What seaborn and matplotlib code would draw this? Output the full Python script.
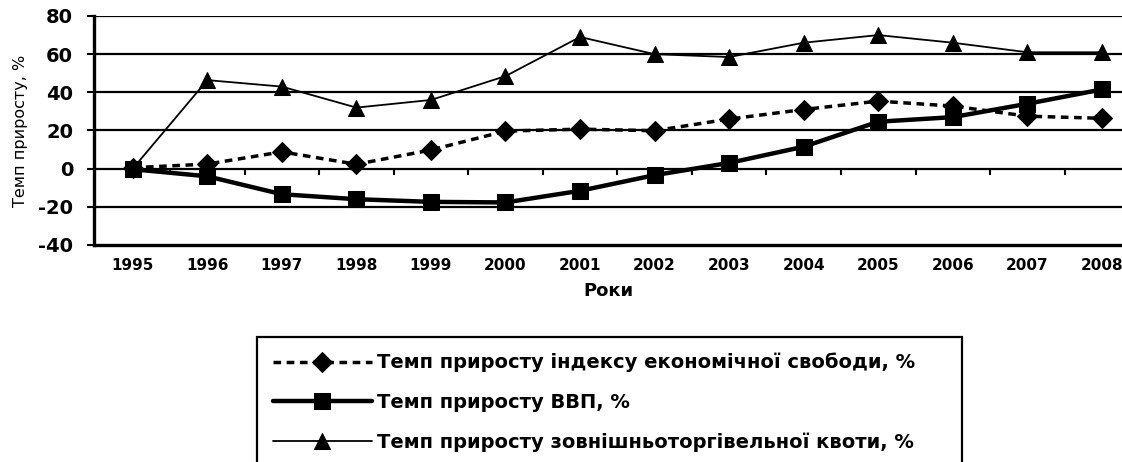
import numpy as np
import pandas as pd
import matplotlib
matplotlib.use("Agg")
import matplotlib.pyplot as plt
import seaborn as sns

sns.set_theme(style="white")
plt.rcParams["font.family"] = ["DejaVu Sans"]
plt.rcParams.update({"text.color": "black", "axes.labelcolor": "black",
                     "xtick.color": "black", "ytick.color": "black"})

years = list(range(1995, 2009))
svoboda = [0.5, 2.4, 8.8, 2.3, 9.8, 19.7, 20.7, 19.9, 26.0, 31.0, 35.4, 32.8, 27.5, 26.4]
vvp = [-0.3, -4.0, -13.4, -16.0, -17.4, -17.7, -11.6, -3.4, 3.0, 11.5, 24.6, 27.0, 34.0, 41.5]
kvota = [0.0, 46.4, 43.0, 32.0, 36.0, 48.5, 69.0, 60.0, 58.5, 66.0, 70.0, 66.0, 61.0, 61.0]

labels = [
    "Темп приросту індексу економічної свободи, %",
    "Темп приросту ВВП, %",
    "Темп приросту зовнішньоторгівельної квоти, %",
]

df = pd.DataFrame({"Рік": years, labels[0]: svoboda, labels[1]: vvp, labels[2]: kvota})

fig = plt.figure(figsize=(11.22, 4.62), dpi=100)
ax = fig.add_axes([94 / 1122, 1 - 245 / 462, 1 - 94 / 1122, 229 / 462])

# сітка під лініями
for v in range(-20, 81, 20):
    ax.axhline(v, color="black", lw=1.6, zorder=1)

sns.lineplot(data=df, x="Рік", y=labels[0], ax=ax, color="black", lw=2.5,
             linestyle=(0, (2.2, 1.6)), marker="D", markersize=10,
             markeredgecolor="black", label=labels[0], zorder=3)
sns.lineplot(data=df, x="Рік", y=labels[1], ax=ax, color="black", lw=3.2,
             marker="s", markersize=12, markeredgecolor="black",
             label=labels[1], zorder=4)
sns.lineplot(data=df, x="Рік", y=labels[2], ax=ax, color="black", lw=1.3,
             marker="^", markersize=12, markeredgecolor="black",
             label=labels[2], zorder=3)

ax.set_xlim(1995 - 0.52, 1995 + 13.27)
ax.set_ylim(-40, 80)
ax.set_yticks(range(-40, 81, 20))
ax.set_xticks(years)
ax.set_xticklabels([str(y) for y in years], fontsize=11, fontweight="bold")
ax.set_yticklabels([str(v) for v in range(-40, 81, 20)], fontsize=14, fontweight="bold")
ax.tick_params(axis="y", which="major", direction="out", length=5, width=1.5,
               color="black", pad=10, left=True)
ax.tick_params(axis="x", which="major", length=0, pad=9)

for s in ["top", "right"]:
    ax.spines[s].set_visible(False)
for s in ["left", "bottom"]:
    ax.spines[s].set_color("black")
    ax.spines[s].set_linewidth(2.4)

# поділки між категоріями на осі 0
sec = ax.secondary_xaxis(40 / 120)
sec.set_xticks([y + 0.5 for y in years[:-1]])
sec.set_xticklabels([])
sec.tick_params(direction="out", length=4, width=1.5, color="black")
sec.spines["bottom"].set_visible(False)
sec.spines["top"].set_visible(False)

ax.set_xlabel("Роки", fontsize=13, fontweight="bold", labelpad=7)
ax.set_ylabel("Темп приросту, %", fontsize=11.5, labelpad=7)

ax.get_legend().remove()
handles, hl = ax.get_legend_handles_labels()
leg = fig.legend(handles, hl, loc="upper left",
                 bbox_to_anchor=(257 / 1122, 1 - 342 / 462, 705 / 1122, 0.01),
                 mode="expand", fancybox=False, frameon=True, framealpha=1,
                 borderpad=0.8, handlelength=5.1, handletextpad=0.25,
                 labelspacing=1.05, borderaxespad=0,
                 prop={"size": 14, "weight": "bold"})
leg.get_frame().set_edgecolor("black")
leg.get_frame().set_linewidth(1.6)
for t in leg.get_texts():
    t.set_color("black")

fig.savefig("out.png", dpi=100)
